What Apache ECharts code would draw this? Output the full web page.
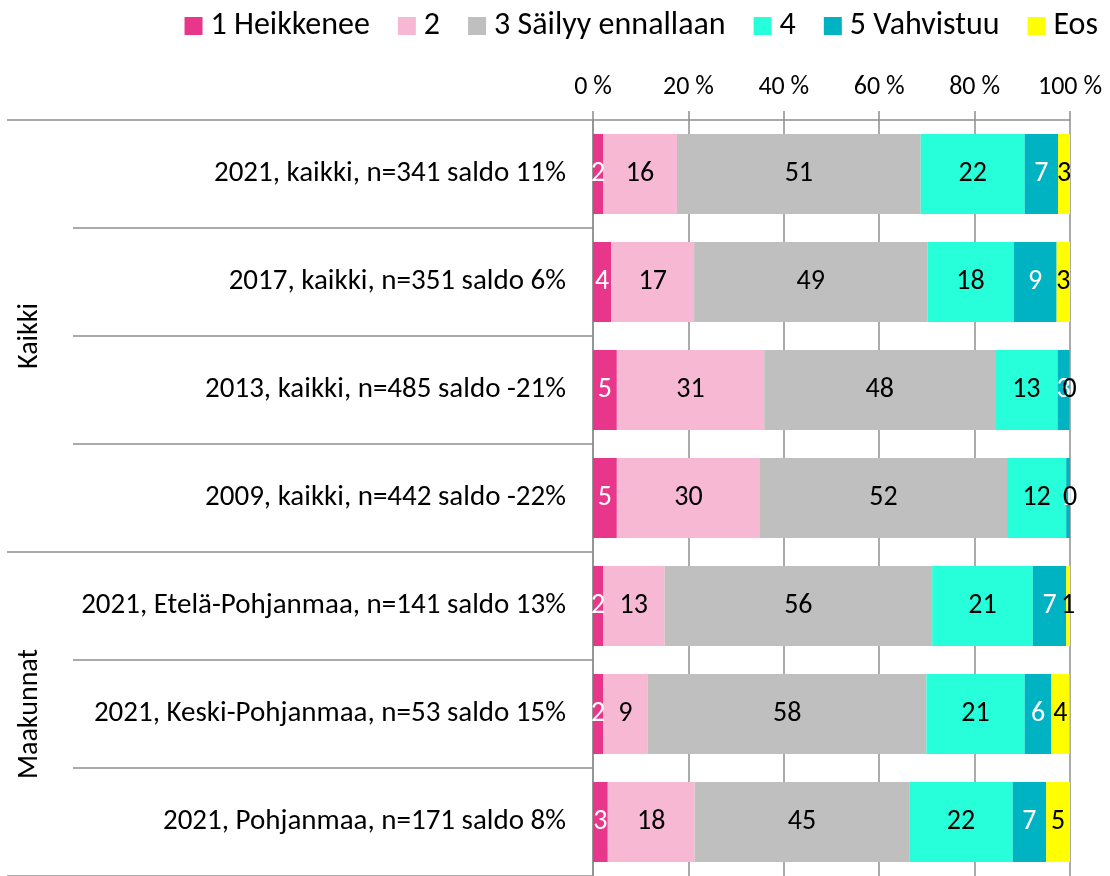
<!DOCTYPE html>
<html>
<head>
<meta charset="utf-8">
<script src="https://cdn.jsdelivr.net/npm/echarts@6/dist/echarts.min.js"></script>
<style>
  html, body { margin: 0; padding: 0; background: #fff; }
  #chart { width: 1110px; height: 876px; }
</style>
</head>
<body>
<div id="chart"></div>
<script>
// rivit (ylhäältä alas)
const categories = [
  '2021, kaikki, n=341 saldo 11%',
  '2017, kaikki, n=351 saldo 6%',
  '2013, kaikki, n=485 saldo -21%',
  '2009, kaikki, n=442 saldo -22%',
  '2021, Etelä-Pohjanmaa, n=141 saldo 13%',
  '2021, Keski-Pohjanmaa, n=53 saldo 15%',
  '2021, Pohjanmaa, n=171 saldo 8%'
]
const groupNames = ['Kaikki', 'Maakunnat']
const groupBounds = [0, 4, 7]   // ryhmien rajat rivi-indekseinä
const groupCenters = [2, 5.5]

const seriesNames = ['1 Heikkenee', '2', '3 Säilyy ennallaan', '4', '5 Vahvistuu', 'Eos']
const heikkenee = [2.1, 3.8, 5.0, 5.0, 2.1, 2.1, 3.1]
const kaksi = [15.5, 17.4, 30.9, 30.0, 12.9, 9.4, 18.2]
const sailyy = [51.1, 48.9, 48.4, 51.8, 56.1, 58.4, 45.0]
const nelja = [21.8, 18.1, 13.1, 12.4, 21.1, 20.6, 21.7]
const vahvistuu = [7.0, 9.0, 2.5, 0.8, 7.0, 5.6, 7.0]
const eos = [2.5, 2.8, 0, 0, 0.8, 3.8, 5.0]

const xTicks = [0, 20, 40, 60, 80, 100]

const colors = ['#E8378A', '#F6B8D3', '#BFBFBF', '#26FFD9', '#00B3C3', '#FFFF00']
const labelColors = ['#fff', '#000', '#000', '#000', '#fff', '#000']
const values = [heikkenee, kaksi, sailyy, nelja, vahvistuu, eos]

const FONT = 'Carlito, Lato, "Open Sans", sans-serif'
const GRIDGRAY = '#8f8f8f'

const chart = echarts.init(document.getElementById('chart'))

chart.setOption({
  animation: false,
  textStyle: { fontFamily: FONT },
  legend: {
    top: 5,
    right: 7,
    icon: 'rect',
    itemWidth: 18,
    itemHeight: 18,
    itemGap: 28,
    textStyle: { fontSize: 32, color: '#000', fontFamily: FONT, padding: [0, 0, 0, 3] },
    data: seriesNames
  },
  grid: { left: 593, right: 40, top: 120, height: 760, containLabel: false },
  xAxis: {
    type: 'value',
    position: 'top',
    min: xTicks[0],
    max: xTicks[xTicks.length - 1],
    interval: 20,
    axisLine: { show: true, lineStyle: { color: GRIDGRAY, width: 1.5 } },
    axisTick: { show: true, length: 9, lineStyle: { color: GRIDGRAY, width: 1.5 } },
    splitLine: { show: true, lineStyle: { color: GRIDGRAY, width: 1.5 } },
    axisLabel: { formatter: '{value} %', fontSize: 26, color: '#000', margin: 20, fontFamily: FONT }
  },
  yAxis: [
    {
      type: 'category',
      inverse: true,
      data: categories,
      axisLine: { show: true, lineStyle: { color: GRIDGRAY, width: 1.5 } },
      axisTick: { show: true, interval: 0, length: 520, lineStyle: { color: GRIDGRAY, width: 1.5 } },
      axisLabel: { fontSize: 29, color: '#000', margin: 27, fontFamily: FONT }
    },
    {
      type: 'value',
      position: 'left',
      inverse: true,
      min: 0,
      max: categories.length,
      axisLine: { show: false },
      splitLine: { show: false },
      axisTick: { show: true, length: 586, customValues: groupBounds, lineStyle: { color: GRIDGRAY, width: 1.5 } },
      axisLabel: {
        customValues: groupCenters,
        rotate: 90,
        margin: 549,
        fontSize: 28,
        color: '#000',
        fontFamily: FONT,
        formatter: v => groupNames[groupCenters.indexOf(v)]
      }
    }
  ],
  series: seriesNames.map((name, i) => ({
    name,
    type: 'bar',
    stack: 'total',
    yAxisIndex: 0,
    barWidth: 80,
    data: values[i],
    itemStyle: { color: colors[i] },
    label: {
      show: true,
      position: 'inside',
      fontSize: 28,
      color: labelColors[i],
      fontFamily: FONT,
      formatter: p => Math.round(p.value)
    }
  }))
})
</script>
</body>
</html>
